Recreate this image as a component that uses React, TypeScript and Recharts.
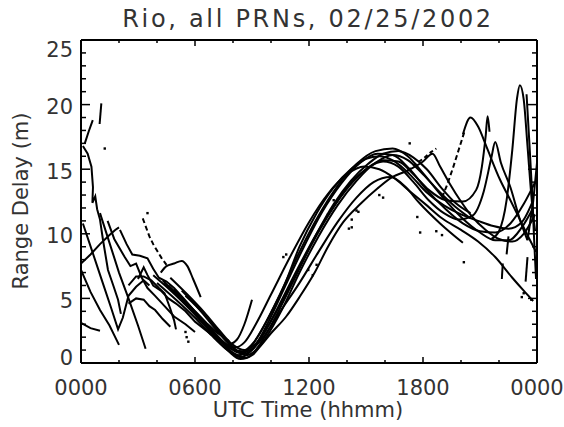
import React from 'react';
import { ComposedChart, Line, Scatter, XAxis, YAxis, ReferenceLine } from 'recharts';

type P = [number, number];

// ---- axis definitions ----
const xTicks = [0, 2, 4, 6, 8, 10, 12, 14, 16, 18, 20, 22, 24];
const xLabels: Record<number, string> = { 0: '0000', 6: '0600', 12: '1200', 18: '1800', 24: '0000' };
const yTicks = [0, 1, 2, 3, 4, 5, 6, 7, 8, 9, 10, 11, 12, 13, 14, 15, 16, 17, 18, 19, 20, 21, 22, 23, 24, 25];
const yLabels: Record<number, string> = { 0: '0', 5: '5', 10: '10', 15: '15', 20: '20', 25: '25' };

// ---- early (00-07 h) arcs ----
const L1: P[] = [[0.1, 16.8], [0.35, 16.2], [0.55, 15.2], [0.63, 13.6], [0.6, 12.4], [0.75, 12.9], [0.85, 11.9], [1.0, 11.1], [1.16, 9.5], [1.42, 7.2], [1.7, 6.0], [1.95, 4.9], [2.1, 3.8]];
const L1b: P[] = [[0.2, 17.0], [0.4, 17.9], [0.62, 18.8]];
const L2: P[] = [[0.98, 18.5], [1.07, 20.1]];
const L3: P[] = [[0, 7.7], [0.5, 8.4], [1.0, 9.2], [1.5, 9.9], [1.8, 10.3], [2.0, 10.5]];
const L4: P[] = [[0, 7.2], [0.5, 5.5], [1.0, 4.1], [1.5, 2.9], [2.0, 1.4]];
const L5: P[] = [[0, 3.1], [0.5, 2.7], [1.0, 2.5]];
const L6: P[] = [[1.0, 11.6], [1.5, 9.3], [2.0, 7.0], [2.5, 5.0], [3.0, 2.9], [3.4, 1.1]];
const L7: P[] = [[0.1, 10.8], [0.6, 8.6], [1.1, 6.4], [1.6, 4.2], [1.95, 2.6], [2.2, 3.5], [2.5, 5.2], [2.9, 5.9], [3.3, 6.4], [3.6, 6.0]];
const L8: P[] = [[1.4, 11.0], [1.75, 9.6], [2.3, 8.2], [2.6, 7.5], [2.9, 7.7], [3.2, 6.6], [3.5, 5.8], [3.9, 5.2], [4.4, 4.4], [4.9, 3.6], [5.5, 3.0], [6.0, 2.4]];
const L9: P[] = [[2.05, 10.3], [2.4, 9.2], [2.7, 8.4], [3.1, 8.3], [3.5, 8.1], [3.8, 7.3], [4.1, 6.6], [4.5, 6.3], [4.9, 5.8], [5.4, 5.0], [6.0, 4.0], [6.6, 3.1], [7.2, 2.3], [7.8, 1.7]];
const L10: P[] = [[4.2, 7.0], [4.5, 7.5], [4.9, 7.7], [5.3, 7.9], [5.6, 7.5], [5.9, 6.5], [6.3, 5.1]];
const L11: P[] = [[3.25, 11.2], [3.4, 10.6], [3.6, 9.8], [3.8, 9.2], [4.0, 8.7], [4.25, 8.1], [4.5, 7.6]];
const M1: P[] = [[2.5, 6.0], [2.9, 6.7], [3.3, 6.7], [3.7, 6.4], [4.1, 5.8], [4.4, 5.4], [4.7, 4.2], [4.9, 3.3], [5.0, 2.6]];
const M2: P[] = [[2.5, 4.6], [2.9, 5.0], [3.3, 4.9], [3.6, 4.4], [3.9, 4.1], [4.3, 3.4], [4.7, 2.8]];
const M3: P[] = [[3.0, 6.5], [3.3, 7.4], [3.5, 6.8], [3.8, 6.0], [4.2, 5.6], [4.6, 5.0], [5.0, 4.6], [5.5, 4.0], [6.0, 3.2], [6.6, 2.5], [7.2, 1.8]];

// ---- main daytime bundle ----
const B1: P[] = [[3.8, 6.8], [4.5, 5.9], [5.3, 4.8], [6.1, 3.6], [6.9, 2.4], [7.6, 1.5], [8.1, 1.2], [8.6, 1.6], [9.2, 3.0], [10, 5.3], [11, 8.2], [12, 10.9], [13, 13.1], [14, 14.6], [14.9, 15.2], [15.7, 15.0], [16.5, 14.3], [17.3, 13.3], [18.2, 12.2], [19.0, 11.2], [20.0, 10.3], [20.9, 9.4], [21.8, 8.2], [22.7, 6.6], [23.3, 5.6], [23.8, 4.8]];
const B2: P[] = [[4.3, 6.4], [5.2, 5.0], [6.1, 3.6], [7.0, 2.1], [7.8, 0.9], [8.3, 0.6], [8.9, 1.2], [9.6, 2.8], [10.5, 5.4], [11.5, 8.6], [12.5, 11.4], [13.5, 13.7], [14.5, 15.4], [15.5, 16.4], [16.4, 16.6], [17.2, 16.0], [18.0, 14.7], [19.0, 12.9], [20.0, 11.3], [21.0, 10.1], [21.8, 9.5], [22.5, 9.5], [23.2, 10.5], [23.8, 12.0]];
const B3: P[] = [[4.6, 6.0], [5.5, 4.7], [6.4, 3.3], [7.3, 1.8], [8.0, 0.8], [8.5, 0.5], [9.1, 1.2], [9.8, 3.0], [10.7, 5.8], [11.7, 8.9], [12.7, 11.7], [13.7, 13.9], [14.7, 15.5], [15.6, 16.2], [16.4, 16.1], [17.3, 15.0], [18.2, 13.4], [19.2, 11.9], [20.1, 10.8], [21.0, 10.2], [21.8, 10.1], [22.6, 10.8], [23.3, 12.3], [23.9, 14.0]];
const B4: P[] = [[4.9, 5.7], [5.8, 4.3], [6.7, 2.9], [7.5, 1.5], [8.2, 0.5], [8.7, 0.4], [9.3, 1.2], [10, 2.9], [11, 5.8], [12, 8.8], [13, 11.4], [14, 13.6], [15, 15.0], [15.9, 15.7], [16.7, 15.6], [17.5, 14.6], [18.3, 13.4], [19.2, 12.6], [20.1, 12.5], [20.8, 13.4], [21.1, 15.2], [21.3, 17.6], [21.4, 19.1], [21.5, 17.9]];
const B5: P[] = [[5.0, 5.4], [5.9, 4.1], [6.8, 2.7], [7.6, 1.5], [8.3, 0.8], [8.9, 1.0], [9.6, 2.0], [10.4, 3.8], [11.5, 6.2], [12.5, 8.6], [13.5, 10.9], [14.5, 12.8], [15.4, 14.0], [16.3, 14.4], [17.1, 13.6], [17.8, 12.4], [18.9, 10.8], [20.1, 9.3]];
const B6: P[] = [[5.3, 5.6], [6.2, 4.2], [7.1, 2.6], [7.9, 1.3], [8.5, 0.7], [9.0, 1.0], [9.6, 2.2], [10.4, 4.4], [11.4, 7.3], [12.4, 10.0], [13.4, 12.3], [14.3, 14.0], [15.1, 15.1], [15.9, 15.6], [16.7, 15.2], [17.5, 14.0], [18.3, 12.6], [19.1, 11.6], [19.9, 11.1], [20.6, 11.4], [21.2, 13.3], [21.6, 15.9], [21.8, 17.1], [22.1, 15.5], [22.6, 13.6], [23.1, 11.1], [23.5, 9.5]];
const B7: P[] = [[5.5, 5.2], [6.4, 3.9], [7.3, 2.4], [8.1, 1.1], [8.7, 0.6], [9.3, 1.1], [10, 2.3], [10.8, 3.6], [11.5, 5.1], [12.3, 7.0], [13.0, 9.0], [13.8, 10.9], [14.7, 12.3], [15.6, 13.5], [16.4, 14.4], [17.2, 14.9], [18.0, 15.6], [18.5, 16.2], [18.9, 15.2], [19.4, 13.9], [20.0, 12.5], [20.6, 11.3], [21.3, 10.3], [22.0, 9.6], [22.7, 9.4], [23.3, 10.0], [23.9, 11.5]];
const B8: P[] = [[4.0, 6.2], [5.0, 4.9], [6.0, 3.5], [6.9, 2.1], [7.7, 1.0], [8.4, 0.3], [9.0, 0.6], [9.7, 1.9], [10.6, 4.2], [11.5, 7.0], [12.5, 9.8], [13.5, 12.2], [14.5, 14.1], [15.5, 15.5], [16.4, 16.1], [17.2, 15.7], [18.0, 14.6], [18.9, 13.2], [19.7, 12.1], [20.5, 11.2]];
const B9: P[] = [[4.4, 6.2], [5.3, 4.9], [6.2, 3.5], [7.1, 2.1], [7.9, 1.1], [8.5, 0.9], [9.1, 1.6], [9.9, 3.6], [10.7, 6.0], [11.5, 9.0], [12.4, 11.6], [13.3, 13.6], [14.2, 15.0], [15.0, 15.8], [15.7, 16.0], [16.5, 15.6], [17.3, 14.6], [18.2, 13.2], [19.1, 12.2], [20.0, 11.5], [20.9, 11.0], [21.7, 10.6], [22.5, 10.4], [23.2, 10.9], [23.8, 12.6]];
const B10: P[] = [[4.7, 6.6], [5.6, 5.3], [6.5, 3.9], [7.3, 2.5], [8.0, 1.4], [8.6, 1.0], [9.2, 1.5], [9.9, 3.0], [10.7, 5.1], [11.5, 7.4], [12.4, 10.0], [13.3, 12.3], [14.2, 14.1], [15.1, 15.4], [15.9, 16.2], [16.7, 16.4], [17.5, 15.9], [18.2, 15.0], [19.0, 13.5], [19.7, 12.4], [20.5, 11.6]];
const E1: P[] = [[7.6, 1.3], [8.2, 1.8], [8.6, 3.0], [9.0, 4.9]];

// ---- evening arcs ----
const R1a: P[] = [[19.0, 12.8], [19.3, 13.9], [19.6, 15.2], [19.9, 16.6], [20.2, 18.0]];
const R1b: P[] = [[20.1, 17.7], [20.5, 19.0], [20.9, 18.3], [21.35, 16.7], [22.05, 14.2], [22.6, 12.6], [23.1, 11.1], [23.6, 9.6], [23.95, 8.6]];
const R2: P[] = [[21.6, 9.6], [22.0, 10.2], [22.4, 12.6], [22.7, 16.5], [22.95, 20.5], [23.1, 21.5], [23.3, 20.4], [23.5, 16.8], [23.7, 13.0], [23.9, 10.2]];
const R3: P[] = [[23.5, 9.5], [23.8, 12.5], [24, 15.5]];
const R4: P[] = [[23.45, 20.8], [23.6, 17.0], [23.75, 13.0], [23.85, 9.5], [23.95, 6.5]];
const S1: P[] = [[22.2, 7.7], [22.15, 6.5]];
const S2: P[] = [[23.5, 8.2], [23.4, 6.3]];
const S3: P[] = [[22.5, 9.8], [22.4, 8.4]];
const D1: P[] = [[17.2, 14.9], [17.6, 15.4], [18.0, 15.8], [18.4, 16.3], [18.7, 16.6]];

// ---- isolated samples ----
const dotPts: P[] = [
  [1.25, 16.6], [3.5, 11.6], [5.56, 2.0], [5.65, 1.65], [5.5, 2.4],
  [10.65, 8.2], [10.8, 8.4], [11.96, 7.2], [12.2, 6.8], [12.4, 7.6], [13.0, 11.5], [13.3, 12.6],
  [14.1, 10.4], [14.25, 11.1], [14.5, 11.8], [14.25, 10.5], [14.6, 11.7], [15.7, 13.0], [15.9, 12.8],
  [17.7, 11.3], [17.85, 10.1], [18.7, 10.2], [19.0, 9.9], [20.15, 7.8], [17.3, 17.0],
  [23.2, 5.1], [23.3, 5.4], [23.7, 4.9],
];

const toPts = (arr: P[]) => arr.map(([h, v]) => ({ h, v }));

const series: { pts: P[]; curve: 'linear' | 'monotone'; dash?: string }[] = [
  { pts: L1, curve: 'linear' }, { pts: L1b, curve: 'linear' }, { pts: L2, curve: 'linear' },
  { pts: L3, curve: 'linear' }, { pts: L4, curve: 'linear' }, { pts: L5, curve: 'linear' },
  { pts: L6, curve: 'linear' }, { pts: L7, curve: 'linear' }, { pts: L8, curve: 'linear' },
  { pts: L9, curve: 'linear' }, { pts: L10, curve: 'monotone' }, { pts: L11, curve: 'linear', dash: '5 3' },
  { pts: M1, curve: 'linear' }, { pts: M2, curve: 'linear' }, { pts: M3, curve: 'linear' },
  { pts: B1, curve: 'monotone' }, { pts: B2, curve: 'monotone' }, { pts: B3, curve: 'monotone' },
  { pts: B4, curve: 'monotone' }, { pts: B5, curve: 'monotone' }, { pts: B6, curve: 'monotone' },
  { pts: B7, curve: 'monotone' }, { pts: B8, curve: 'monotone' }, { pts: B9, curve: 'monotone' },
  { pts: B10, curve: 'monotone' }, { pts: E1, curve: 'monotone' },
  { pts: R1a, curve: 'linear', dash: '5 3' }, { pts: R1b, curve: 'monotone' }, { pts: R2, curve: 'monotone' },
  { pts: R3, curve: 'linear' }, { pts: R4, curve: 'linear' }, { pts: S1, curve: 'linear' },
  { pts: S2, curve: 'linear' }, { pts: S3, curve: 'linear' }, { pts: D1, curve: 'linear', dash: '4 3' },
];

// ---- layout ----
const W = 564;
const H = 427;
const MARGIN = { top: 40, right: 27, bottom: 34, left: 21 };
const Y_AXIS_W = 60;
const X_AXIS_H = 30;
const PW = W - MARGIN.left - MARGIN.right - Y_AXIS_W;
const PH = H - MARGIN.top - MARGIN.bottom - X_AXIS_H;
const FONT = '"DejaVu Sans", Verdana, sans-serif';
const TXT = '#333333';

const XTick = (props: any) => {
  const { x, y, payload } = props;
  const v = payload.value as number;
  const major = v % 6 === 0;
  const len = major ? 6 : 3;
  return (
    <g>
      <line x1={x} x2={x} y1={y} y2={y - len} stroke="#000" strokeWidth={1.5} />
      <line x1={x} x2={x} y1={y - PH} y2={y - PH + len} stroke="#000" strokeWidth={1.5} />
      {major && (
        <text x={x} y={y + 32} textAnchor="middle" fontSize={21} fontFamily={FONT} fill={TXT}>
          {xLabels[v]}
        </text>
      )}
    </g>
  );
};

const YTick = (props: any) => {
  const { x, y, payload } = props;
  const v = payload.value as number;
  const major = v % 5 === 0;
  const len = major ? 9 : 5;
  const dy = v === 25 ? 16.5 : v === 0 ? 1.5 : 9.5;
  return (
    <g>
      <line x1={x} x2={x + len} y1={y} y2={y} stroke="#000" strokeWidth={1.5} />
      <line x1={x + PW} x2={x + PW - len} y1={y} y2={y} stroke="#000" strokeWidth={1.5} />
      {major && (
        <text x={x - 8} y={y + dy} textAnchor="end" fontSize={21} fontFamily={FONT} fill={TXT}>
          {yLabels[v]}
        </text>
      )}
    </g>
  );
};

const DotShape = (props: any) => {
  const { cx, cy } = props;
  return <rect x={cx - 1.2} y={cy - 1.2} width={2.4} height={2.4} fill="#000" />;
};

export default function App() {
  return (
    <div style={{ position: 'absolute', left: 0, top: 0, width: W, height: H, background: '#fff' }}>
      <ComposedChart width={W} height={H} margin={MARGIN}>
        <XAxis
          xAxisId={0}
          type="number"
          dataKey="h"
          domain={[0, 24]}
          ticks={xTicks}
          interval={0}
          height={X_AXIS_H}
          tickLine={false}
          tickSize={0}
          tickMargin={0}
          axisLine={{ stroke: '#000', strokeWidth: 2 }}
          tick={(p: any) => <XTick {...p} />}
          allowDataOverflow
        />
        <YAxis
          yAxisId={0}
          type="number"
          domain={[0, 25]}
          ticks={yTicks}
          interval={0}
          width={Y_AXIS_W}
          tickLine={false}
          tickSize={0}
          tickMargin={0}
          axisLine={{ stroke: '#000', strokeWidth: 2 }}
          tick={(p: any) => <YTick {...p} />}
          allowDataOverflow
        />
        <ReferenceLine y={25} stroke="#000" strokeWidth={2} />
        <ReferenceLine x={24} stroke="#000" strokeWidth={2} />
        {series.map((s, i) => (
          <Line
            key={i}
            data={toPts(s.pts)}
            dataKey="v"
            type={s.curve}
            stroke="#000"
            strokeWidth={2}
            strokeDasharray={s.dash}
            dot={false}
            activeDot={false}
            isAnimationActive={false}
          />
        ))}
        <Scatter data={toPts(dotPts)} dataKey="v" shape={DotShape} isAnimationActive={false} />
      </ComposedChart>
      <svg
        width={W}
        height={H}
        style={{ position: 'absolute', left: 0, top: 0, pointerEvents: 'none' }}
      >
        <text x={308} y={27} textAnchor="middle" fontSize={24} letterSpacing={2.7} fontFamily={FONT} fill={TXT}>
          Rio, all PRNs, 02/25/2002
        </text>
        <text
          transform="translate(28,201) rotate(-90)"
          textAnchor="middle"
          fontSize={21}
          fontFamily={FONT}
          fill={TXT}
        >
          Range Delay (m)
        </text>
        <text x={308} y={417} textAnchor="middle" fontSize={21} fontFamily={FONT} fill={TXT}>
          UTC Time (hhmm)
        </text>
      </svg>
    </div>
  );
}
